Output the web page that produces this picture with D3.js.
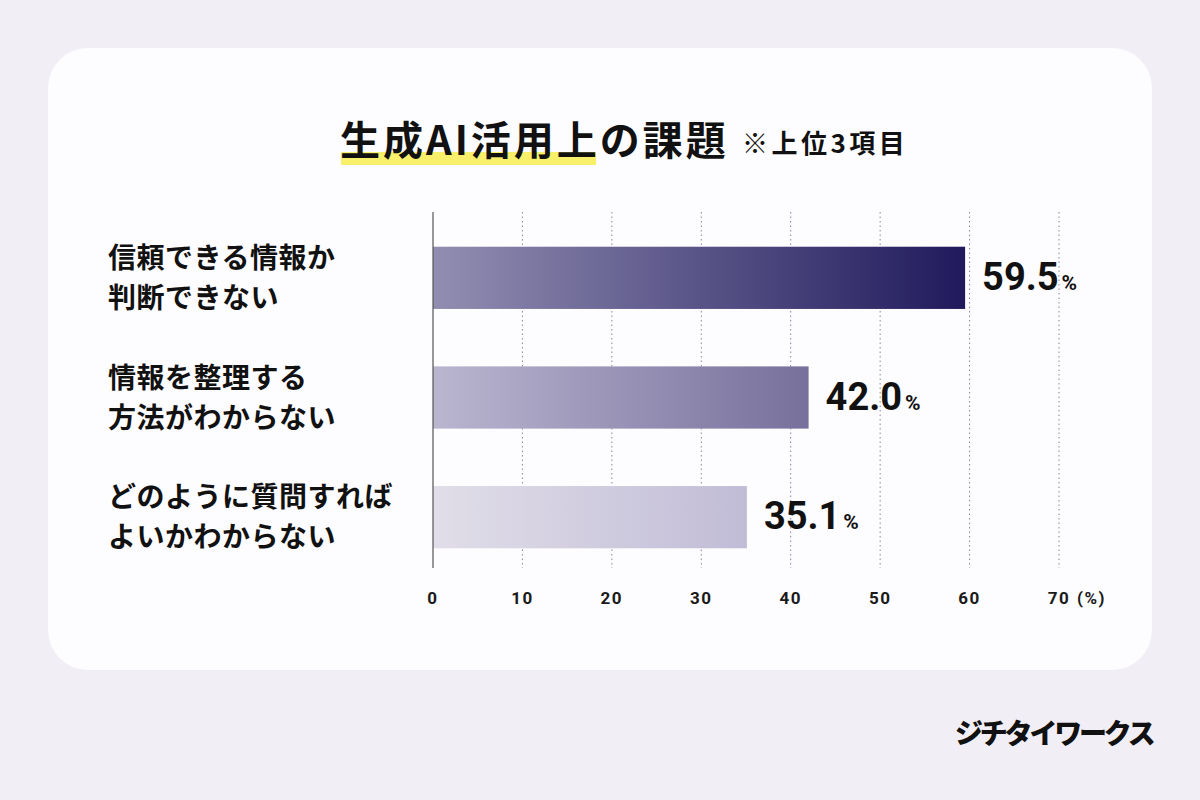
<!DOCTYPE html>
<html>
<head>
<meta charset="utf-8">
<script src="https://cdn.jsdelivr.net/npm/d3@7"></script>
<style>
  body { margin: 0; background: #f1eff5; }
  svg { display: block; }
</style>
</head>
<body>
<svg id="chart" width="1200" height="800"></svg>
<script>
// data
var categories = [
  ["信頼できる情報か", "判断できない"],
  ["情報を整理する", "方法がわからない"],
  ["どのように質問すれば", "よいかわからない"]
];
var values = [59.5, 42.0, 35.1];
var ticks = [0, 10, 20, 30, 40, 50, 60, 70];
var barColors = [["#928eb2", "#201a5c"], ["#bab6d0", "#77709c"], ["#e1dee9", "#c1bcd6"]];

var jp = "'Noto Sans CJK JP', 'Noto Sans', sans-serif";
var num = "Roboto, 'Noto Sans', sans-serif";

var svg = d3.select("#chart");

// card
svg.append("rect")
  .attr("x", 48).attr("y", 48)
  .attr("width", 1104).attr("height", 622)
  .attr("rx", 40)
  .attr("fill", "#fdfcfe");

// title
svg.append("rect")
  .attr("x", 341).attr("y", 152)
  .attr("width", 255).attr("height", 13)
  .attr("fill", "#f8f06a");

svg.append("text")
  .attr("x", 340).attr("y", 155)
  .attr("font-family", jp).attr("font-weight", 700)
  .attr("font-size", 40).attr("letter-spacing", 3).attr("fill", "#111")
  .text("生成AI活用上の課題");

svg.append("text")
  .attr("x", 742).attr("y", 153)
  .attr("font-family", jp).attr("font-weight", 700)
  .attr("font-size", 26).attr("letter-spacing", 3.5).attr("fill", "#111")
  .text("※上位3項目");

var x = d3.scaleLinear().domain([0, 70]).range([433, 1059]);
var y = d3.scaleBand().domain(d3.range(categories.length)).range([218, 577]).paddingInner(0.48).paddingOuter(0.24);

var defs = svg.append("defs");
barColors.forEach(function(c, i) {
  var g = defs.append("linearGradient").attr("id", "grad" + i)
    .attr("x1", "0%").attr("x2", "100%").attr("y1", "0%").attr("y2", "0%");
  g.append("stop").attr("offset", "0%").attr("stop-color", c[0]);
  g.append("stop").attr("offset", "100%").attr("stop-color", c[1]);
});

// dotted grid
svg.append("g")
  .selectAll("line")
  .data(ticks.slice(1))
  .join("line")
    .attr("x1", d => x(d)).attr("x2", d => x(d))
    .attr("y1", 212).attr("y2", 568)
    .attr("stroke", "#8e82a6")
    .attr("stroke-width", 1)
    .attr("stroke-dasharray", "1.5,3");

// bars
svg.append("g")
  .selectAll("rect")
  .data(values)
  .join("rect")
    .attr("x", x(0))
    .attr("y", (d, i) => y(i))
    .attr("width", d => x(d) - x(0))
    .attr("height", y.bandwidth())
    .attr("fill", (d, i) => "url(#grad" + i + ")");

// y axis line
svg.append("line")
  .attr("x1", x(0)).attr("x2", x(0))
  .attr("y1", 212).attr("y2", 568)
  .attr("stroke", "#555").attr("stroke-width", 1.2);

// value labels
var vl = svg.append("g")
  .selectAll("text")
  .data(values)
  .join("text")
    .attr("x", d => x(d) + 17)
    .attr("y", (d, i) => y(i) + y.bandwidth() / 2 + 12)
    .attr("font-family", num).attr("font-weight", 700)
    .attr("fill", "#111");
vl.append("tspan").attr("font-size", 38).text(d => d.toFixed(1));
vl.append("tspan").attr("font-size", 21).attr("dx", 3).text("%");

// category labels
svg.append("g")
  .selectAll("text")
  .data(categories)
  .join("text")
    .attr("font-family", jp).attr("font-weight", 700)
    .attr("font-size", 28).attr("letter-spacing", 0.5).attr("fill", "#111")
    .each(function(d, i) {
      var t = d3.select(this);
      var cy = y(i) + y.bandwidth() / 2;
      d.forEach(function(line, j) {
        t.append("tspan").attr("x", 108).attr("y", cy - 10 + j * 40).text(line);
      });
    });

// x tick labels
svg.append("g")
  .selectAll("text")
  .data(ticks)
  .join("text")
    .attr("x", d => x(d))
    .attr("y", 604)
    .attr("text-anchor", "middle")
    .attr("font-family", num).attr("font-weight", 700)
    .attr("font-size", 17).attr("letter-spacing", 1.5).attr("fill", "#1a1a1a")
    .text(d => d);

svg.append("text")
  .attr("x", x(70) + 18).attr("y", 604)
  .attr("font-family", num).attr("font-weight", 700)
  .attr("font-size", 17).attr("letter-spacing", 1.5).attr("fill", "#1a1a1a")
  .text("(%)");

// logo
svg.append("text")
  .attr("x", 955).attr("y", 744)
  .attr("font-family", jp).attr("font-weight", 900)
  .attr("font-size", 28).attr("letter-spacing", -3.2).attr("fill", "#111")
  .text("ジチタイワークス");
</script>
</body>
</html>
